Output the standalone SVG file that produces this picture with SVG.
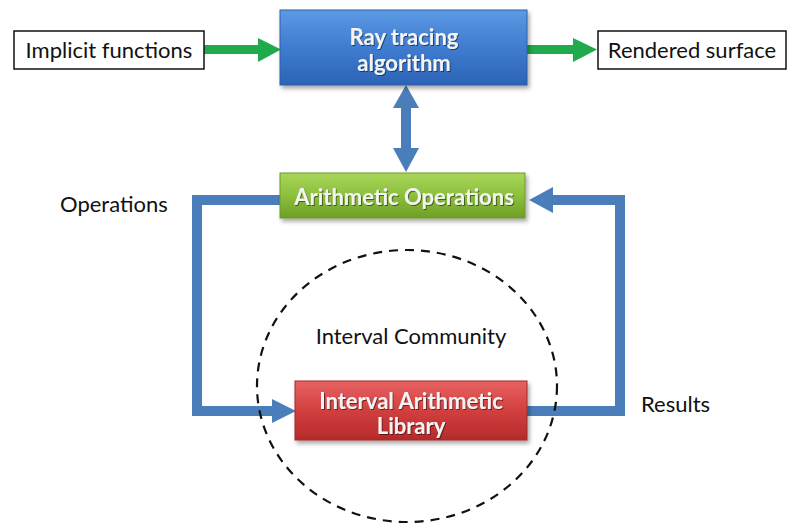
<svg xmlns="http://www.w3.org/2000/svg" width="787" height="527" viewBox="0 0 787 527">
<defs>
<linearGradient id="gBlue" x1="0" y1="0" x2="0" y2="1"><stop offset="0" stop-color="#5c9ae4"/><stop offset="0.5" stop-color="#3f7ccf"/><stop offset="1" stop-color="#2c63b6"/></linearGradient>
<linearGradient id="gGreen" x1="0" y1="0" x2="0" y2="1"><stop offset="0" stop-color="#a9d65a"/><stop offset="0.5" stop-color="#8cc03c"/><stop offset="1" stop-color="#6e9e26"/></linearGradient>
<linearGradient id="gRed" x1="0" y1="0" x2="0" y2="1"><stop offset="0" stop-color="#e86262"/><stop offset="0.5" stop-color="#d23f3f"/><stop offset="1" stop-color="#b52a2a"/></linearGradient>
<filter id="sh" x="-10%" y="-10%" width="125%" height="135%"><feDropShadow dx="2" dy="3" stdDeviation="2" flood-color="#000" flood-opacity="0.35"/></filter>
<filter id="tsh"><feDropShadow dx="1" dy="1" stdDeviation="0.6" flood-color="#000" flood-opacity="0.5"/></filter>
</defs>
<style>
.lbl{font-family:Lato,"Open Sans",sans-serif;font-size:22px;fill:#111}
.wt{font-family:Lato,"Open Sans",sans-serif;font-size:22px;font-weight:bold;fill:#f4f4f4;text-anchor:middle;filter:url(#tsh)}
.wbox{fill:#fff;stroke:#111;stroke-width:1.5}
.blue{fill:none;stroke:#4a7ebb;stroke-width:10}
.bluef{fill:#4a7ebb}
.grn{fill:#1faa4c}
</style>
<rect width="787" height="527" fill="#fff"/>
<g id="connectors">
<rect class="grn" x="204" y="45" width="56" height="9"/>
<polygon class="grn" points="258,38 281,49.5 258,62"/>
<rect class="grn" x="527" y="45" width="48" height="9"/>
<polygon class="grn" points="573,38 597,49.5 573,62"/>
<rect class="bluef" x="401" y="105" width="10" height="46"/>
<polygon class="bluef" points="393,108 406,85 419,108"/>
<polygon class="bluef" points="393,148 406,172 419,148"/>
<polyline class="blue" points="280,200 197,200 197,411 275,411"/>
<polygon class="bluef" points="272,399 296,411 272,423"/>
<polyline class="blue" points="527,411 620,411 620,200 550,200"/>
<polygon class="bluef" points="553,187 529,200 553,213"/>
</g>
<g id="community">
<ellipse cx="407" cy="386" rx="150" ry="136" fill="none" stroke="#111" stroke-width="2.2" stroke-dasharray="9,7"/>
<text class="lbl" x="411" y="344" text-anchor="middle">Interval Community</text>
</g>
<g id="implicit">
<rect class="wbox" x="14" y="31" width="190" height="38"/>
<text class="lbl" x="109" y="58" text-anchor="middle">Implicit functions</text>
</g>
<g id="rendered">
<rect class="wbox" x="598" y="31" width="188" height="38"/>
<text class="lbl" x="692" y="58" text-anchor="middle">Rendered surface</text>
</g>
<g id="raytracing">
<rect x="280" y="10" width="247" height="75" fill="url(#gBlue)" stroke="#2d5fa8" stroke-width="1" filter="url(#sh)"/>
<text class="wt" x="404" y="45">Ray tracing</text>
<text class="wt" x="404" y="71">algorithm</text>
</g>
<g id="arith">
<rect x="280" y="173" width="245" height="45" fill="url(#gGreen)" stroke="#6e9a2a" stroke-width="1" filter="url(#sh)"/>
<text class="wt" x="404" y="205">Arithmetic Operations</text>
</g>
<g id="library">
<rect x="295" y="381" width="232" height="59" fill="url(#gRed)" stroke="#a02a2a" stroke-width="1" filter="url(#sh)"/>
<text class="wt" x="411" y="409">Interval Arithmetic</text>
<text class="wt" x="411" y="434">Library</text>
</g>
<g id="labels">
<text class="lbl" x="60" y="212">Operations</text>
<text class="lbl" x="641" y="412">Results</text>
</g>
</svg>
